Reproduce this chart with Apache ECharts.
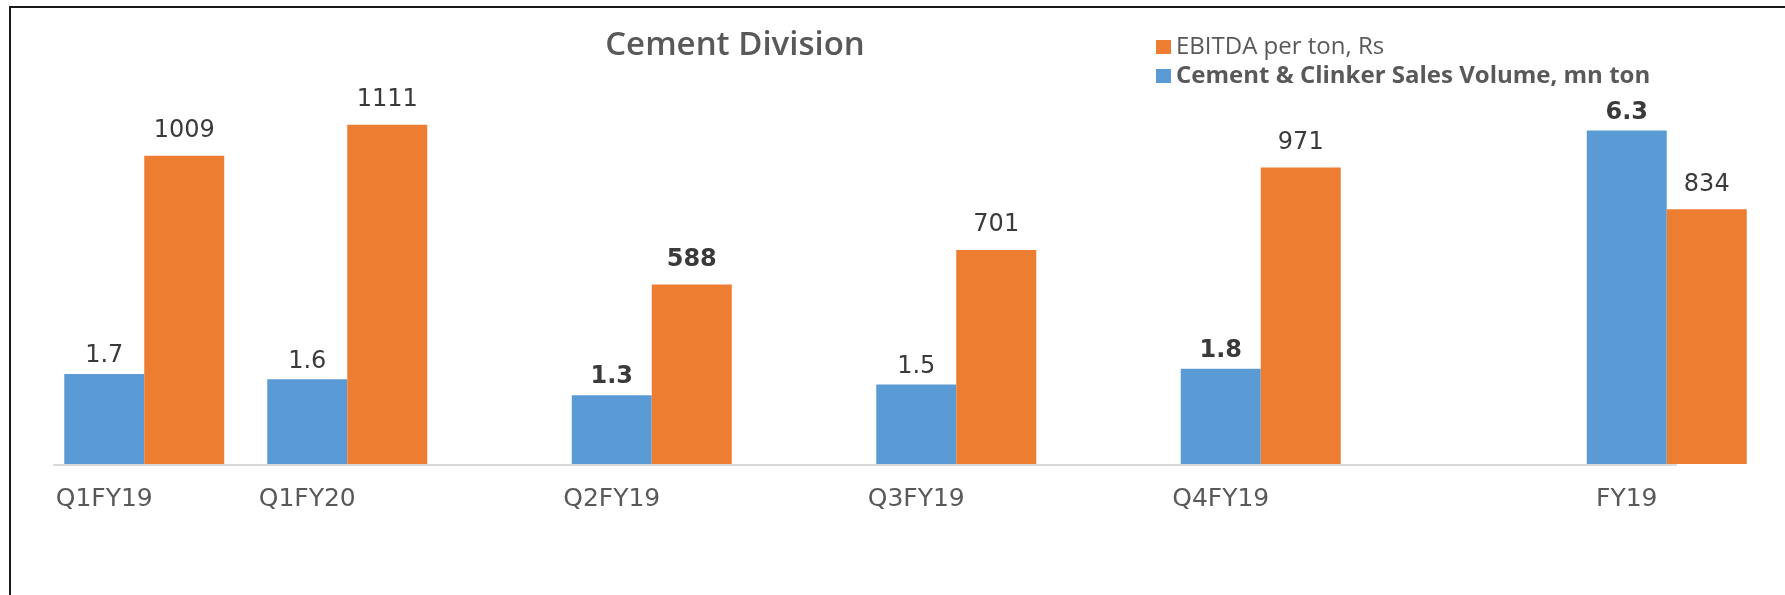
<!DOCTYPE html>
<html>
<head>
<meta charset="utf-8">
<script src="https://cdn.jsdelivr.net/npm/echarts@6/dist/echarts.min.js"></script>
<style>
  html, body { margin: 0; padding: 0; background: #fff; }
  #chart { width: 1785px; height: 595px; }
</style>
</head>
<body>
<div id="chart"></div>
<script>
  // data
  const categories = ['Q1FY19', 'Q1FY20', 'Q2FY19', 'Q3FY19', 'Q4FY19', 'FY19'];
  const salesVolume = [1.7, 1.6, 1.3, 1.5, 1.8, 6.3];
  const ebitdaPerTon = [1009, 1111, 588, 701, 971, 834];
  const salesName = 'Cement & Clinker Sales Volume, mn ton';
  const ebitdaName = 'EBITDA per ton, Rs';

  // the slide leaves uneven empty space between the groups
  const blanksBefore = [0, 1, 2, 2, 2, 3];
  const boldSales = [2, 4, 5];
  const boldEbitda = [2];

  let axisCats = [], salesData = [], ebitdaData = [];
  categories.forEach((c, i) => {
    for (let k = 0; k < blanksBefore[i]; k++)
    {
      axisCats.push('');
      salesData.push(null);
      ebitdaData.push(null);
    };
    axisCats.push(c);
    salesData.push(boldSales.includes(i)? {value: salesVolume[i], label: {fontWeight: 'bold'}}: salesVolume[i]);
    ebitdaData.push(boldEbitda.includes(i)? {value: ebitdaPerTon[i], label: {fontWeight: 'bold'}}: ebitdaPerTon[i]);
  });

  const labelStyle = {
    show: true,
    position: 'top',
    distance: 13,
    fontFamily: 'DejaVu Sans',
    fontSize: 24,
    color: '#3a3a3a'
  };

  let chart = echarts.init(document.getElementById('chart'));
  chart.setOption({
    animation: false,
    title: {
      text: 'Cement Division',
      left: 730,
      top: 24,
      textAlign: 'center',
      textStyle: { fontFamily: 'Open Sans', fontSize: 33, fontWeight: 600, color: '#595959' }
    },
    legend: {
      orient: 'vertical',
      left: 1151,
      top: 30,
      itemGap: 5,
      itemWidth: 15,
      itemHeight: 14,
      icon: 'rect',
      textStyle: { fontFamily: 'Open Sans', fontSize: 24, lineHeight: 24, color: '#595959' },
      data: [
        { name: ebitdaName },
        { name: salesName, textStyle: { fontWeight: 'bold' } }
      ]
    },
    grid: { left: 93.5, right: 67.5, top: 67, bottom: 131, outerBoundsMode: 'none' },
    xAxis: {
      type: 'category',
      data: axisCats,
      axisLine: { show: false },
      axisTick: { show: false },
      axisLabel: {
        interval: 0,
        margin: 23,
        padding: [0, 80, 0, 0],
        fontFamily: 'DejaVu Sans',
        fontSize: 25,
        color: '#595959'
      }
    },
    yAxis: [
      { type: 'value', min: 0, max: 7.5, show: false, splitLine: { show: false } },
      { type: 'value', min: 0, max: 1300, show: false, splitLine: { show: false } }
    ],
    series: [
      {
        name: salesName,
        type: 'bar',
        yAxisIndex: 0,
        barWidth: 80,
        barGap: '0%',
        clip: false,
        itemStyle: { color: '#5b9bd5' },
        label: Object.assign({}, labelStyle, { distance: 6 }),
        data: salesData
      },
      {
        name: ebitdaName,
        type: 'bar',
        yAxisIndex: 1,
        barWidth: 80,
        barGap: '0%',
        clip: false,
        itemStyle: { color: '#ed7d31' },
        label: labelStyle,
        data: ebitdaData
      }
    ]
  });

  // frame and baseline: the baseline runs from just left of the first group to the middle of the last one
  let baseY = chart.convertToPixel({yAxisIndex: 0}, 0);
  let firstX = chart.convertToPixel({xAxisIndex: 0}, 0);
  let lastX = chart.convertToPixel({xAxisIndex: 0}, axisCats.length - 1);
  chart.setOption({
    graphic: [
      {
        type: 'polyline',
        shape: { points: [[10, 595], [10, 7], [1785, 7]] },
        style: { stroke: '#1a1a1a', lineWidth: 2, fill: null }
      },
      {
        type: 'line',
        z: -1,
        shape: { x1: firstX - 91, y1: baseY + 1, x2: lastX + 10, y2: baseY + 1 },
        style: { stroke: '#d9d9d9', lineWidth: 2 }
      }
    ]
  });
</script>
</body>
</html>
